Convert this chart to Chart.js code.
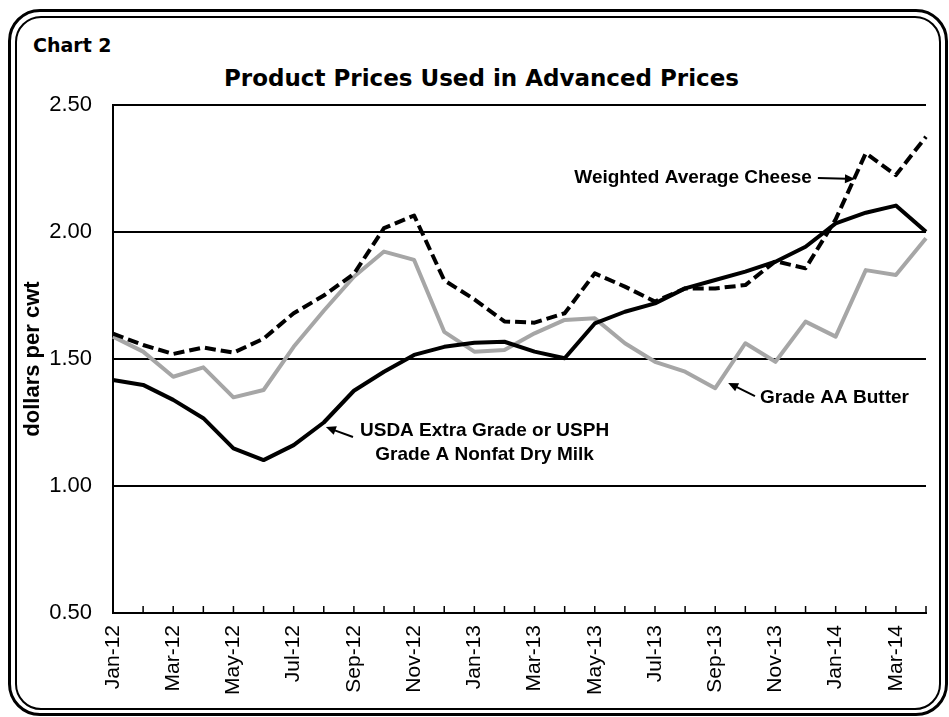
<!DOCTYPE html>
<html>
<head>
<meta charset="utf-8">
<script src="https://cdn.jsdelivr.net/npm/chart.js@4.4.1/dist/chart.umd.min.js"></script>
<style>
  html, body { margin: 0; padding: 0; background: #fff; }
  #wrap { position: relative; width: 949px; height: 717px; overflow: hidden; }
  .frame { position: absolute; box-sizing: border-box; border: 3px solid #000; }
  #outer { left: 8px; top: 9px; width: 940px; height: 707px; border-radius: 32px; }
  #inner { left: 15px; top: 16px; width: 926px; height: 694px; border: 2px solid #000; border-radius: 26px; }
  #chartNo { position: absolute; left: 33px; top: 34px; font: bold 19px "DejaVu Sans"; color: #000; }
  #title { position: absolute; left: 0; width: 963px; top: 65px; text-align: center; font: bold 23px "DejaVu Sans"; color: #000; }
  canvas { position: absolute; left: 0; top: 0; }
</style>
</head>
<body>
<div id="wrap">
  <div class="frame" id="outer"></div>
  <div class="frame" id="inner"></div>
  <div id="chartNo">Chart 2</div>
  <div id="title">Product Prices Used in Advanced Prices</div>
  <canvas id="chart" width="949" height="717"></canvas>
</div>
<script>
const months = ["Jan-12", "Feb-12", "Mar-12", "Apr-12", "May-12", "Jun-12", "Jul-12", "Aug-12", "Sep-12", "Oct-12", "Nov-12", "Dec-12",
  "Jan-13", "Feb-13", "Mar-13", "Apr-13", "May-13", "Jun-13", "Jul-13", "Aug-13", "Sep-13", "Oct-13", "Nov-13", "Dec-13",
  "Jan-14", "Feb-14", "Mar-14", "Apr-14"];

const cheese = [1.60, 1.555, 1.52, 1.545, 1.525, 1.58, 1.68, 1.75, 1.835, 2.015, 2.065, 1.81, 1.735, 1.648,
  1.643, 1.68, 1.837, 1.785, 1.726, 1.778, 1.778, 1.791, 1.885, 1.857, 2.05, 2.31, 2.224, 2.375];
const butter = [1.588, 1.529, 1.43, 1.467, 1.349, 1.378, 1.548, 1.69, 1.824, 1.923, 1.89, 1.607, 1.529, 1.535,
  1.601, 1.654, 1.66, 1.562, 1.489, 1.45, 1.385, 1.562, 1.489, 1.647, 1.588, 1.85, 1.831, 1.975];
const nonfat = [1.417, 1.398, 1.339, 1.267, 1.148, 1.102, 1.161, 1.25, 1.375, 1.45, 1.516, 1.548, 1.564, 1.568,
  1.529, 1.503, 1.64, 1.686, 1.719, 1.778, 1.811, 1.844, 1.883, 1.942, 2.034, 2.076, 2.104, 2.001];

const yTicks = [0.5, 1.0, 1.5, 2.0, 2.5];

// labels placed in data units: x = month index, y = price
const notes = [
  { lines: ["Weighted Average Cheese"], x: 23.21, y: 2.213, align: "right", arrow: [23.41, 2.213, 24.64, 2.209] },
  { lines: ["Grade AA Butter"], x: 21.49, y: 1.346, align: "left", arrow: [21.32, 1.354, 20.43, 1.406] },
  { lines: ["USDA Extra Grade or USPH", "Grade A Nonfat Dry Milk"], x: 12.34, y: 1.217, align: "center", arrow: [7.97, 1.193, 7.07, 1.232] }
];

const FONT = "'Liberation Sans', Arial, sans-serif";

const innerTicks = {
  id: "innerTicks",
  afterDraw(chart) {
    const { ctx, chartArea, scales } = chart;
    ctx.save();
    ctx.strokeStyle = "#000";
    ctx.lineWidth = 1.5;
    months.forEach((m, i) => {
      const x = scales.x.getPixelForValue(i);
      ctx.beginPath();
      ctx.moveTo(x, chartArea.bottom);
      ctx.lineTo(x, chartArea.bottom - 7);
      ctx.stroke();
    });
    ctx.restore();
  }
};

function arrow(ctx, x1, y1, x2, y2) {
  const a = Math.atan2(y2 - y1, x2 - x1);
  const len = 10, half = 4.5;
  ctx.beginPath();
  ctx.moveTo(x1, y1);
  ctx.lineTo(x2 - Math.cos(a) * len * 0.8, y2 - Math.sin(a) * len * 0.8);
  ctx.stroke();
  ctx.beginPath();
  ctx.moveTo(x2, y2);
  ctx.lineTo(x2 - Math.cos(a) * len - Math.sin(a) * half, y2 - Math.sin(a) * len + Math.cos(a) * half);
  ctx.lineTo(x2 - Math.cos(a) * len + Math.sin(a) * half, y2 - Math.sin(a) * len - Math.cos(a) * half);
  ctx.closePath();
  ctx.fill();
}

const labelPlugin = {
  id: "labels",
  afterDraw(chart) {
    const { ctx, scales } = chart;
    const xs = scales.x, ys = scales.y;
    ctx.save();
    ctx.fillStyle = "#000";
    ctx.strokeStyle = "#000";
    ctx.lineWidth = 2;
    ctx.font = "bold 19px " + FONT;
    ctx.textBaseline = "middle";
    notes.forEach(n => {
      ctx.textAlign = n.align;
      const x = xs.getPixelForValue(n.x);
      n.lines.forEach((t, k) => {
        ctx.fillText(t, x, ys.getPixelForValue(n.y) + k * 24);
      });
      const a = n.arrow;
      arrow(ctx, xs.getPixelForValue(a[0]), ys.getPixelForValue(a[1]), xs.getPixelForValue(a[2]), ys.getPixelForValue(a[3]));
    });
    ctx.restore();
  }
};

new Chart(document.getElementById("chart"), {
  type: "line",
  data: {
    labels: months,
    datasets: [
      {
        label: "Weighted Average Cheese",
        data: cheese,
        borderColor: "#000",
        borderWidth: 4,
        borderDash: [11, 5],
        pointRadius: 0,
        tension: 0
      },
      {
        label: "USDA Extra Grade or USPH Grade A Nonfat Dry Milk",
        data: nonfat,
        borderColor: "#000",
        borderWidth: 4,
        pointRadius: 0,
        tension: 0
      },
      {
        label: "Grade AA Butter",
        data: butter,
        borderColor: "#a6a6a6",
        borderWidth: 4,
        pointRadius: 0,
        tension: 0
      }
    ]
  },
  options: {
    responsive: false,
    animation: false,
    devicePixelRatio: 1,
    layout: { padding: { left: 20, right: 23, top: 105, bottom: 0 } },
    plugins: {
      legend: { display: false },
      tooltip: { enabled: false }
    },
    elements: { line: { borderJoinStyle: "round" } },
    scales: {
      x: {
        grid: { drawOnChartArea: false, drawTicks: false },
        border: { color: "#000", width: 2 },
        ticks: {
          autoSkip: false,
          maxRotation: 90,
          minRotation: 90,
          padding: 12,
          color: "#000",
          font: { family: FONT, size: 21 },
          callback: (v, i) => (i % 2 === 0 ? months[i] : "")
        },
        afterFit: s => { s.height = 104; s.paddingLeft = 0; s.paddingRight = 0; }
      },
      y: {
        min: 0.5,
        max: 2.5,
        afterBuildTicks: s => { s.ticks = yTicks.map(v => ({ value: v })); },
        grid: { color: "#000", lineWidth: 2, drawTicks: false },
        border: { color: "#000", width: 2 },
        ticks: {
          padding: 21,
          color: "#000",
          font: { family: FONT, size: 22 },
          callback: v => v.toFixed(2)
        },
        title: {
          display: true,
          text: "dollars per cwt",
          color: "#000",
          font: { family: FONT, size: 22, weight: "bold" },
          padding: { top: 0, bottom: 0 }
        },
        afterFit: s => { s.width = 93; }
      }
    }
  },
  plugins: [innerTicks, labelPlugin]
});
</script>
</body>
</html>
